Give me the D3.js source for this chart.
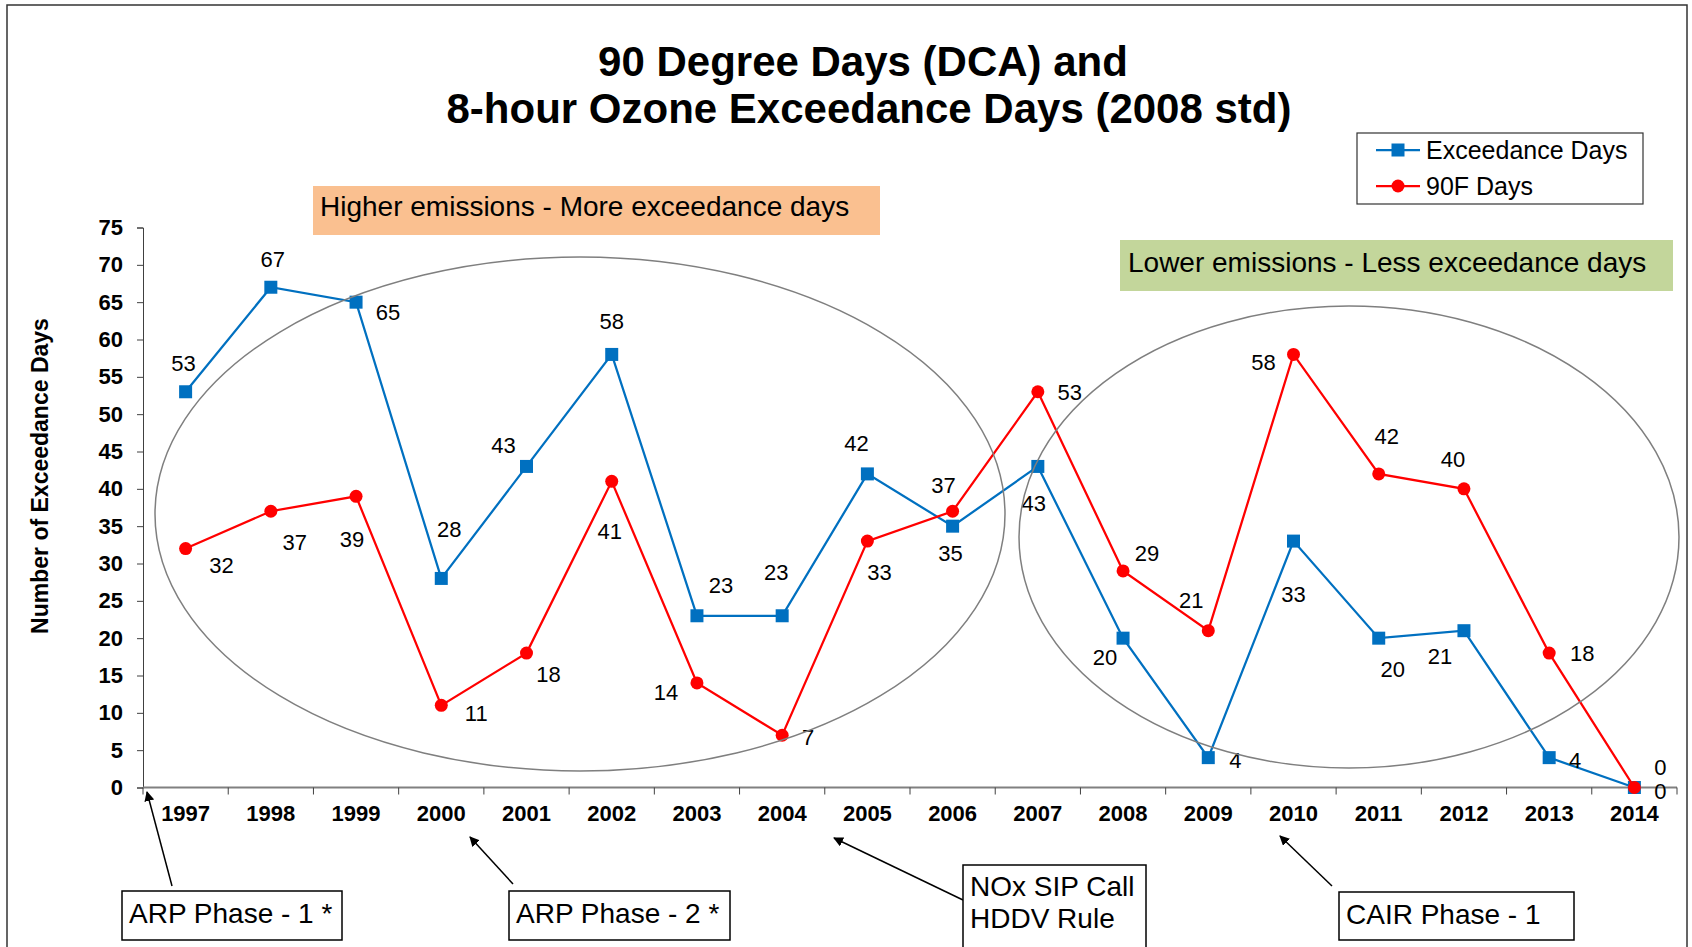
<!DOCTYPE html>
<html>
<head>
<meta charset="utf-8">
<script src="https://cdn.jsdelivr.net/npm/d3@7"></script>
<style>
  html, body { margin: 0; padding: 0; background: #fff; }
  svg { display: block; font-family: "Liberation Sans", Arial, sans-serif; }
</style>
</head>
<body>
<div id="chart"></div>
<script>
// data
const years = ["1997", "1998", "1999", "2000", "2001", "2002", "2003", "2004", "2005",
               "2006", "2007", "2008", "2009", "2010", "2011", "2012", "2013", "2014"];
const exceedanceDays = [53, 67, 65, 28, 43, 58, 23, 23, 42, 35, 43, 20, 4, 33, 20, 21, 4, 0];
const hotDays = [32, 37, 39, 11, 18, 41, 14, 7, 33, 37, 53, 29, 21, 58, 42, 40, 18, 0];
const yTicks = [0, 5, 10, 15, 20, 25, 30, 35, 40, 45, 50, 55, 60, 65, 70, 75];

// where each data label sits relative to its point (px)
const blueLabelOffsets = [[-2, -29], [2, -28], [32, 10], [8, -49], [-23, -21], [0, -33], [24, -31],
  [-6, -44], [-11, -31], [-2, 27], [-4, 37], [-18, 19], [27, 2], [0, 53], [14, 31], [-24, 25],
  [26, 2], [26, -20]];
const redLabelOffsets = [[36, 17], [24, 31], [-4, 43], [35, 8], [22, 21], [-2, 50], [-31, 9],
  [26, 2], [12, 31], [-9, -26], [32, 0], [24, -18], [-17, -31], [-30, 8], [8, -38], [-11, -30],
  [33, 0], [26, 4]];

const width = 1692;
const height = 947;
const blue = "#0070C0";
const red = "#FF0000";

const svg = d3.select("#chart")
    .append("svg")
    .attr("width", width)
    .attr("height", height);

svg.append("defs").append("marker")
    .attr("id", "arrow")
    .attr("viewBox", "0 0 10 10")
    .attr("refX", 9)
    .attr("refY", 5)
    .attr("markerWidth", 10)
    .attr("markerHeight", 10)
    .attr("markerUnits", "userSpaceOnUse")
    .attr("orient", "auto")
    .append("path")
    .attr("d", "M0,0 L10,5 L0,10 z")
    .attr("fill", "#000");

// outer frame
svg.append("rect")
    .attr("x", 7).attr("y", 5)
    .attr("width", 1680).attr("height", 960)
    .attr("fill", "none")
    .attr("stroke", "#333")
    .attr("stroke-width", 1.5);

// title
const title = svg.append("text")
    .attr("text-anchor", "middle")
    .attr("font-size", 42)
    .attr("font-weight", "bold");
title.append("tspan").attr("x", 863).attr("y", 76).text("90 Degree Days (DCA) and");
title.append("tspan").attr("x", 869).attr("y", 123).text("8-hour Ozone Exceedance Days (2008 std)");

// scales
const x = d3.scaleBand()
    .domain(years)
    .range([143, 1677])
    .padding(0);

const y = d3.scaleLinear()
    .domain([0, 75])
    .range([787.5, 227.5]);

// y axis
const yAxis = svg.append("g")
    .attr("transform", "translate(143,0)")
    .call(d3.axisLeft(y).tickValues(yTicks).tickSize(6).tickPadding(14));
yAxis.select(".domain").attr("stroke", "#404040");
yAxis.selectAll(".tick line").attr("stroke", "#404040");
yAxis.selectAll(".tick text")
    .attr("font-size", 22)
    .attr("font-weight", "bold")
    .attr("font-family", "Liberation Sans, Arial, sans-serif")
    .attr("fill", "#000");

svg.append("text")
    .attr("transform", "translate(40,476) rotate(-90)")
    .attr("text-anchor", "middle")
    .attr("dominant-baseline", "central")
    .attr("font-size", 23)
    .attr("font-weight", "bold")
    .text("Number of Exceedance Days");

// x axis: line, boundary ticks, labels
const xAxis = svg.append("g");
xAxis.append("line")
    .attr("x1", x.range()[0]).attr("x2", x.range()[1])
    .attr("y1", y(0)).attr("y2", y(0))
    .attr("stroke", "#808080")
    .attr("stroke-width", 2);
const bounds = years.map(d => x(d)).concat([x.range()[1]]);
xAxis.selectAll(".xtick")
    .data(bounds)
    .enter()
    .append("line")
    .attr("x1", d => d).attr("x2", d => d)
    .attr("y1", y(0)).attr("y2", y(0) + 7)
    .attr("stroke", "#404040");
xAxis.selectAll(".xlabel")
    .data(years)
    .enter()
    .append("text")
    .attr("x", d => x(d) + x.bandwidth() / 2)
    .attr("y", 821)
    .attr("text-anchor", "middle")
    .attr("font-size", 22)
    .attr("font-weight", "bold")
    .text(d => d);

// series
const cx = i => x(years[i]) + x.bandwidth() / 2;
const line = d3.line()
    .x((d, i) => cx(i))
    .y(d => y(d));

svg.append("path")
    .attr("d", line(exceedanceDays))
    .attr("fill", "none")
    .attr("stroke", blue)
    .attr("stroke-width", 2.25);
svg.selectAll(".sq")
    .data(exceedanceDays)
    .enter()
    .append("rect")
    .attr("x", (d, i) => cx(i) - 6.5)
    .attr("y", d => y(d) - 6.5)
    .attr("width", 13).attr("height", 13)
    .attr("fill", blue);

svg.append("path")
    .attr("d", line(hotDays))
    .attr("fill", "none")
    .attr("stroke", red)
    .attr("stroke-width", 2.25);
svg.selectAll(".dot")
    .data(hotDays)
    .enter()
    .append("circle")
    .attr("cx", (d, i) => cx(i))
    .attr("cy", d => y(d))
    .attr("r", 6.5)
    .attr("fill", red);

// data labels
function addLabels(values, offsets) {
    svg.append("g")
        .selectAll("text")
        .data(values)
        .enter()
        .append("text")
        .attr("x", (d, i) => cx(i) + offsets[i][0])
        .attr("y", (d, i) => y(d) + offsets[i][1])
        .attr("dy", "0.36em")
        .attr("text-anchor", "middle")
        .attr("font-size", 22)
        .text(d => d);
}
addLabels(exceedanceDays, blueLabelOffsets);
addLabels(hotDays, redLabelOffsets);

// ellipses
svg.append("ellipse")
    .attr("cx", 580).attr("cy", 514).attr("rx", 425).attr("ry", 257)
    .attr("fill", "none").attr("stroke", "#7f7f7f").attr("stroke-width", 1.5);
svg.append("ellipse")
    .attr("cx", 1349).attr("cy", 537).attr("rx", 330).attr("ry", 231)
    .attr("fill", "none").attr("stroke", "#7f7f7f").attr("stroke-width", 1.5);

// shaded notes
svg.append("rect")
    .attr("x", 313).attr("y", 186).attr("width", 567).attr("height", 49)
    .attr("fill", "#FAC090");
svg.append("text")
    .attr("x", 320).attr("y", 216)
    .attr("font-size", 28)
    .text("Higher emissions - More exceedance days");

svg.append("rect")
    .attr("x", 1120).attr("y", 240).attr("width", 553).attr("height", 51)
    .attr("fill", "#C3D69B");
svg.append("text")
    .attr("x", 1128).attr("y", 272)
    .attr("font-size", 28)
    .text("Lower emissions - Less exceedance days");

// legend
const legend = svg.append("g");
legend.append("rect")
    .attr("x", 1357).attr("y", 133).attr("width", 286).attr("height", 71)
    .attr("fill", "#fff").attr("stroke", "#333").attr("stroke-width", 1.2);
const legendItems = [
    { name: "Exceedance Days", color: blue, shape: "square", y: 150 },
    { name: "90F Days", color: red, shape: "circle", y: 186 }
];
legendItems.forEach(item => {
    legend.append("line")
        .attr("x1", 1376).attr("x2", 1420)
        .attr("y1", item.y).attr("y2", item.y)
        .attr("stroke", item.color).attr("stroke-width", 2.25);
    if (item.shape === "square") {
        legend.append("rect")
            .attr("x", 1391.5).attr("y", item.y - 6.5)
            .attr("width", 13).attr("height", 13)
            .attr("fill", item.color);
    } else {
        legend.append("circle")
            .attr("cx", 1398).attr("cy", item.y).attr("r", 6.5)
            .attr("fill", item.color);
    }
    legend.append("text")
        .attr("x", 1426).attr("y", item.y)
        .attr("dy", "0.36em")
        .attr("font-size", 25)
        .text(item.name);
});

// rule annotations with arrows
const notes = [
    { lines: ["ARP Phase - 1 *"], box: [122, 891, 220, 49], from: [172, 886], to: [147, 792] },
    { lines: ["ARP Phase - 2 *"], box: [509, 891, 221, 49], from: [513, 884], to: [470, 837] },
    { lines: ["NOx SIP Call", "HDDV Rule"], box: [963, 865, 183, 90], from: [963, 900], to: [834, 838] },
    { lines: ["CAIR Phase - 1"], box: [1339, 892, 235, 48], from: [1332, 886], to: [1280, 836] }
];
notes.forEach(n => {
    svg.append("line")
        .attr("x1", n.from[0]).attr("y1", n.from[1])
        .attr("x2", n.to[0]).attr("y2", n.to[1])
        .attr("stroke", "#000").attr("stroke-width", 1.5)
        .attr("marker-end", "url(#arrow)");
    svg.append("rect")
        .attr("x", n.box[0]).attr("y", n.box[1])
        .attr("width", n.box[2]).attr("height", n.box[3])
        .attr("fill", "#fff").attr("stroke", "#000").attr("stroke-width", 1.5);
    const t = svg.append("text").attr("font-size", 28);
    n.lines.forEach((s, i) => {
        t.append("tspan")
            .attr("x", n.box[0] + 7)
            .attr("y", n.lines.length > 1 ? n.box[1] + 31 + i * 32 : n.box[1] + 32)
            .text(s);
    });
});
</script>
</body>
</html>
